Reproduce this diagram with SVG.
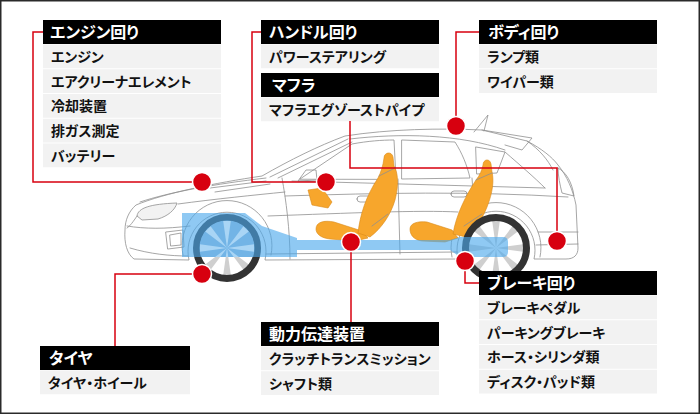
<svg xmlns="http://www.w3.org/2000/svg" width="700" height="414" viewBox="0 0 700 414">
<style>
.hdr{fill:#000}
.row{fill:#f2f2f2}
.ht{font-family:"Noto Sans CJK JP","Noto Sans",sans-serif;font-weight:700;font-size:16px;fill:#fff;font-feature-settings:"palt"}
.rt{font-family:"Noto Sans CJK JP","Noto Sans",sans-serif;font-weight:700;font-size:14px;fill:#111;font-feature-settings:"palt"}
.ln{fill:none;stroke:#d7000f;stroke-width:1.5}
.dot{fill:#d7000f;stroke:#fff;stroke-width:1.5}
.cl{fill:none;stroke:#8f8f8f;stroke-width:0.8;stroke-linejoin:round;stroke-linecap:round}
.cf{fill:#fff;stroke:#8f8f8f;stroke-width:0.8;stroke-linejoin:round}
.seat{fill:#f7a62c;stroke:#d88a1a;stroke-width:0.6}
.tire{fill:none;stroke:#333;stroke-width:7}
.spk{fill:#cfcfcf}
.blue{fill:#4ba8eb;fill-opacity:0.62}
</style>
<defs>
<g id="spokes">
<path d="M0,0 L-3.8,-27 L3.8,-27 Z"/>
<path d="M0,0 L-3.8,-27 L3.8,-27 Z" transform="rotate(45)"/>
<path d="M0,0 L-3.8,-27 L3.8,-27 Z" transform="rotate(90)"/>
<path d="M0,0 L-3.8,-27 L3.8,-27 Z" transform="rotate(135)"/>
<path d="M0,0 L-3.8,-27 L3.8,-27 Z" transform="rotate(180)"/>
<path d="M0,0 L-3.8,-27 L3.8,-27 Z" transform="rotate(225)"/>
<path d="M0,0 L-3.8,-27 L3.8,-27 Z" transform="rotate(270)"/>
<path d="M0,0 L-3.8,-27 L3.8,-27 Z" transform="rotate(315)"/>
</g>
<g id="wheel">
<circle r="27.5" fill="#fff"/>
<use href="#spokes" class="spk"/>
<circle r="30.5" class="tire"/>
</g>
<clipPath id="fclip"><rect x="190" y="205" width="80" height="52"/></clipPath>
</defs>
<rect x="0" y="0" width="700" height="414" fill="#fff"/>
<rect x="0.75" y="0.75" width="698.5" height="412.5" fill="none" stroke="#2a2a2a" stroke-width="1.5"/>

<g id="car">
<path class="cf" d="M134,259 C127,254 124,243 125,230 C125,220 129,211 136,205 C165,193 215,183 262,176 C290,160 318,146 345,136 C390,129 440,128 482,130 L527,141 C542,149 552,157 558,165 C567,176 573,190 576,205 L578,248 C578,255 574,259 566,259 L534,259 A39,39 0 1 0 458,259 L265,260 A39,39 0 1 0 189,260 Z"/>
<path class="cl" d="M270,177 L348,139 M278,178 L352,142"/>
<path class="cl" d="M140,202 C170,192 215,184 266,178 M210,188 L266,181 M215,192 L270,184"/>
<path class="cf" d="M137,216 C138,208 150,204 177,203 C175,210 168,216 158,219 L142,220 Z" style="fill:#f2f2f2"/>
<path class="cl" d="M178,204 C215,199 255,195 285,192"/>
<path class="cl" d="M127,226 C145,229 165,229 190,226 M130,248 C150,254 170,256 188,256 M137,216 C133,222 130,226 127,228"/>
<path class="cl" d="M166,232 L183,230 L184,247 L168,249 Z M170,235 L181,233 L181,245 L171,246 Z"/>
<path class="cl" d="M183,255 A45,45 0 1 1 271,255"/>
<path class="cl" d="M282,178 C286,200 290,230 290,259"/>
<path class="cf" d="M298,181 L306,170 L316,170 L317,180 Z"/>
<path class="cl" d="M300,179 L352,144 C368,141 382,140 394,140 L396,179 Z"/>
<path class="cl" d="M402,140 L455,142 C462,153 467,165 470,178 L402,179 Z"/>
<path class="cl" d="M476,147 L505,152 L497,173 L477,174 Z"/>
<path class="cl" d="M350,139 C400,133 460,134 505,150"/>
<path class="cl" d="M292,181 L545,188"/>
<path class="cl" d="M285,196 C380,193 470,191 568,197"/>
<path class="cl" d="M268,216 C350,213 420,210 458,212"/>
<path class="cl" d="M266,254 L457,252"/>
<path class="cl" d="M398,179 L400,254"/>
<path class="cl" d="M472,178 C474,195 470,208 462,222"/>
<path class="cl" d="M357,199 q0,-3 3,-3 h10 q3,0 3,3 q0,3 -3,3 h-10 q-3,0 -3,-3z M451,194 q0,-3 3,-3 h10 q3,0 3,3 q0,3 -3,3 h-10 q-3,0 -3,-3z"/>
<path class="cl" d="M505,152 C520,165 535,178 545,188"/>
<path class="cl" d="M527,141 C540,150 548,160 553,170"/>
<path class="cl" d="M558,168 C566,172 572,182 574,196 L562,193 C560,185 558,176 558,168 Z"/>
<path class="cl" d="M538,232 L578,232 M536,245 L578,244"/>
<path class="cl" d="M452,257 A45,45 0 1 1 540,257"/>
<path class="cl" d="M482,130 L532,138 L522,150 L505,145 M474,132 L488,115 L484,131"/>
</g>

<g id="seats">
<path class="seat" d="M308,190 L322,188 L332,202 L328,208 L312,205 Z"/>
<path class="seat" d="M316,229 C316,222 324,220 334,222 L362,231 L368,238 L355,241 L330,239 C321,238 316,234 316,229 Z"/>
<path class="seat" d="M384,158 C384,152 392,151 393,157 L394,166 C398,172 399,185 395,200 C391,214 382,228 370,237 L358,233 C360,215 366,196 378,178 C381,172 383,166 384,158 Z"/>
<path class="seat" d="M410,229 C410,223 418,221 427,222 L452,230 L458,238 L445,242 L422,241 C414,240 410,235 410,229 Z"/>
<path class="seat" d="M483,165 C483,159 490,158 491,164 L492,172 C494,180 493,192 487,207 C482,220 474,230 466,237 L453,234 C456,215 466,195 476,180 C480,175 482,170 483,165 Z"/>
<path class="cl" d="M379,176 L395,168 M372,226 L388,214 M476,180 L492,173 M464,226 L482,214"/>
</g>

<g id="wheels">
<use href="#wheel" x="227" y="248"/>
<use href="#wheel" x="496" y="248"/>
</g>

<g id="drivetrain">
<path class="blue" d="M182,213 L245,213 L262,226 L297,238 L297,257 L182,257 Z"/>
<g clip-path="url(#fclip)">
<circle cx="227" cy="248" r="27.5" fill="#72b4e6"/>
<use href="#spokes" x="227" y="248" fill="#a9d5f5"/>
</g>
<path class="blue" d="M297,240 L450,240 L460,237 L503,237 Q508,237 508,242 L508,252 Q508,257 503,257 L460,257 L450,250 L297,250 Z"/>
</g>

<g id="engine">
<rect class="hdr" x="43" y="20" width="178" height="24"/>
<text class="ht" x="50" y="38">エンジン回り</text>
<rect class="row" x="43" y="44.5" width="178" height="23.75"/>
<rect class="row" x="43" y="69.25" width="178" height="23.75"/>
<rect class="row" x="43" y="94" width="178" height="23.75"/>
<rect class="row" x="43" y="118.75" width="178" height="23.75"/>
<rect class="row" x="43" y="143.5" width="178" height="23.75"/>
<text class="rt" x="51" y="62">エンジン</text>
<text class="rt" x="51" y="86.6">エアクリーナエレメント</text>
<text class="rt" x="51" y="111.4">冷却装置</text>
<text class="rt" x="51" y="136.1">排ガス測定</text>
<text class="rt" x="51" y="160.9">バッテリー</text>
</g>

<g id="handle">
<rect class="hdr" x="261" y="20" width="178" height="24"/>
<text class="ht" x="269" y="38">ハンドル回り</text>
<rect class="row" x="261" y="44.5" width="178" height="23.75"/>
<text class="rt" x="269" y="62">パワーステアリング</text>
</g>

<g id="muffler">
<rect class="hdr" x="261" y="73" width="178" height="24"/>
<text class="ht" x="272" y="91">マフラ</text>
<rect class="row" x="261" y="97.5" width="178" height="23.75"/>
<text class="rt" x="269" y="115">マフラエグゾーストパイプ</text>
</g>

<g id="body">
<rect class="hdr" x="479" y="20" width="178" height="24"/>
<text class="ht" x="488" y="38">ボディ回り</text>
<rect class="row" x="479" y="44.5" width="178" height="23.75"/>
<rect class="row" x="479" y="69.25" width="178" height="23.75"/>
<text class="rt" x="487" y="62">ランプ類</text>
<text class="rt" x="487" y="86.6">ワイパー類</text>
</g>

<g id="brake">
<rect class="hdr" x="479" y="271" width="178" height="24"/>
<text class="ht" x="487" y="289">ブレーキ回り</text>
<rect class="row" x="479" y="295.5" width="178" height="23.75"/>
<rect class="row" x="479" y="320.25" width="178" height="23.75"/>
<rect class="row" x="479" y="345" width="178" height="23.75"/>
<rect class="row" x="479" y="369.75" width="178" height="23.75"/>
<text class="rt" x="487" y="313">ブレーキペダル</text>
<text class="rt" x="487" y="337.6">パーキングブレーキ</text>
<text class="rt" x="487" y="362.4">ホース・シリンダ類</text>
<text class="rt" x="487" y="387.1">ディスク・パッド類</text>
</g>

<g id="transmission">
<rect class="hdr" x="261" y="322" width="178" height="24"/>
<text class="ht" x="269" y="340">動力伝達装置</text>
<rect class="row" x="261" y="346.5" width="178" height="23.75"/>
<rect class="row" x="261" y="371.25" width="178" height="23.75"/>
<text class="rt" x="269" y="364">クラッチトランスミッション</text>
<text class="rt" x="269" y="388.6">シャフト類</text>
</g>

<g id="tire">
<rect class="hdr" x="40" y="346" width="150" height="24"/>
<text class="ht" x="49" y="364">タイヤ</text>
<rect class="row" x="40" y="370.5" width="150" height="23.75"/>
<text class="rt" x="48" y="388">タイヤ・ホイール</text>
</g>

<g id="connectors">
<path class="ln" d="M43,32 H33 V182 H202"/>
<path class="ln" d="M261,32 H252 V182 H326"/>
<path class="ln" d="M350,121 V168 H557 V241"/>
<path class="ln" d="M479,32 H456 V126"/>
<path class="ln" d="M351,242 V322"/>
<path class="ln" d="M202,274 H115 V346"/>
<path class="ln" d="M465,261 V283 H479"/>
<circle class="dot" cx="202" cy="182" r="9.5"/>
<circle class="dot" cx="326" cy="182" r="9.5"/>
<circle class="dot" cx="456" cy="126" r="9.5"/>
<circle class="dot" cx="557" cy="241" r="9.5"/>
<circle class="dot" cx="351" cy="242" r="9.5"/>
<circle class="dot" cx="202" cy="274" r="9.5"/>
<circle class="dot" cx="465" cy="261" r="9.5"/>
</g>
</svg>
